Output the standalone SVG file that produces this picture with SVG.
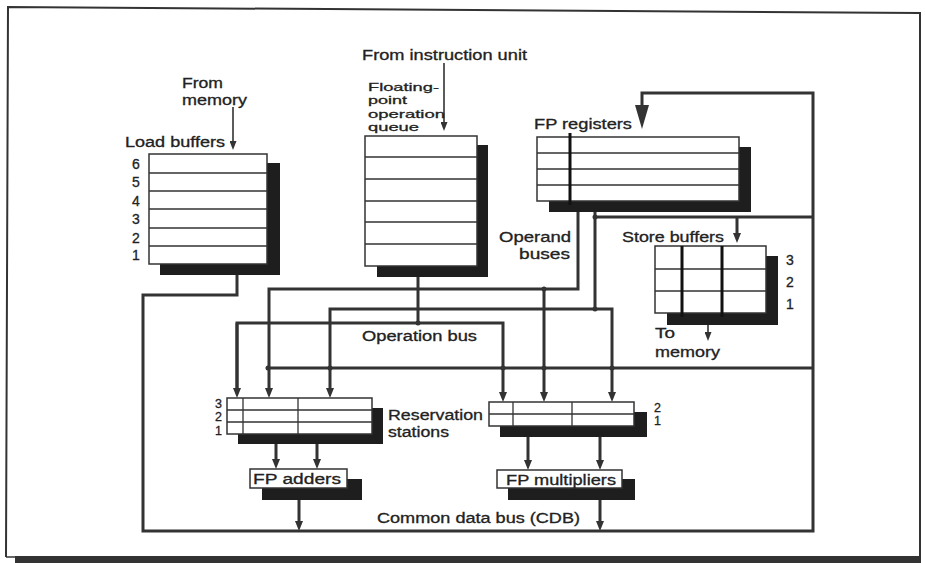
<svg xmlns="http://www.w3.org/2000/svg" width="925" height="563" viewBox="0 0 925 563">
<defs>
<style>
.t{font-family:"Liberation Sans",Arial,sans-serif;font-size:14px;fill:#222;stroke:#222;stroke-width:0.3;}
.q{font-family:"Liberation Sans",Arial,sans-serif;font-size:11.5px;fill:#222;stroke:#222;stroke-width:0.3;}
.n{font-family:"Liberation Sans",Arial,sans-serif;font-size:14px;fill:#222;stroke:#222;stroke-width:0.3;}
.s{font-family:"Liberation Sans",Arial,sans-serif;font-size:12.5px;fill:#222;stroke:#222;stroke-width:0.3;}
.box{fill:#fff;stroke:#333;stroke-width:1.5;}
.sh{fill:#1e1e1e;}
.rl{stroke:#333;stroke-width:1.3;fill:none;}
.tk{stroke:#111;stroke-width:3;fill:none;}
.bus{stroke:#333;stroke-width:3;fill:none;stroke-linejoin:miter;}
.thin{stroke:#333;stroke-width:1.6;fill:none;}
.dot{fill:#333;}
</style>
<marker id="ah" markerUnits="userSpaceOnUse" viewBox="0 0 10 8" refX="5" refY="4" markerWidth="10" markerHeight="8" orient="auto"><path d="M0,0 L10,4 L0,8 z" fill="#333"/></marker>
<marker id="ahs" markerUnits="userSpaceOnUse" viewBox="0 0 9 7" refX="6" refY="3.5" markerWidth="9" markerHeight="7" orient="auto"><path d="M0,0 L9,3.5 L0,7 z" fill="#333"/></marker>
<marker id="ahb" markerUnits="userSpaceOnUse" viewBox="0 0 24 14" refX="16" refY="7" markerWidth="24" markerHeight="14" orient="auto"><path d="M0,0 L24,7 L0,14 z" fill="#333"/></marker>
</defs>
<rect x="0" y="0" width="925" height="563" fill="#fff"/>
<!-- frame -->
<path d="M6,557 L8,7 L920,13 L920,558" fill="none" stroke="#333" stroke-width="2"/>
<path d="M6,557 L16,557" fill="none" stroke="#333" stroke-width="1.5"/>
<rect x="15" y="556" width="906" height="7" fill="#333"/>

<g id="connectors">
<path class="thin" d="M233,107 V147" marker-end="url(#ahs)"/>
<path class="thin" d="M444,63 V128" marker-end="url(#ahs)"/>
<path class="bus" d="M237,275 V295 H143 V531 H813 V93 H642 V121" marker-end="url(#ahb)"/>
<path class="bus" d="M813,217 H595"/>
<path class="bus" d="M737,217 V238" marker-end="url(#ah)"/>
<path class="thin" d="M708,325 V338" marker-end="url(#ahs)"/>
<path class="bus" d="M813,368 H268"/>
<path class="bus" d="M578,212 V289 H269 V393" marker-end="url(#ah)"/>
<path class="bus" d="M544,289 V397" marker-end="url(#ah)"/>
<path class="bus" d="M595,212 V309 H330 V393" marker-end="url(#ah)"/>
<path class="bus" d="M595,309 H612 V397" marker-end="url(#ah)"/>
<path class="bus" d="M418,277 V323"/>
<path class="bus" d="M237,393 V323 H503 V397" marker-end="url(#ah)"/>
<path class="bus" d="M237,323 V393" marker-end="url(#ah)"/>
<path class="bus" d="M276,444 V464" marker-end="url(#ah)"/>
<path class="bus" d="M317,444 V464" marker-end="url(#ah)"/>
<path class="bus" d="M528,437 V465" marker-end="url(#ah)"/>
<path class="bus" d="M600,437 V465" marker-end="url(#ah)"/>
<path class="bus" d="M299,500 V526" marker-end="url(#ah)"/>
<path class="bus" d="M600,500 V526" marker-end="url(#ah)"/>
<circle class="dot" cx="595" cy="217" r="2.5"/>
<circle class="dot" cx="268" cy="368" r="2.5"/>
<circle class="dot" cx="330" cy="368" r="2.5"/>
<circle class="dot" cx="503" cy="368" r="2.5"/>
<circle class="dot" cx="544" cy="368" r="2.5"/>
<circle class="dot" cx="612" cy="368" r="2.5"/>
<circle class="dot" cx="544" cy="289" r="2.5"/>
<circle class="dot" cx="595" cy="309" r="2.5"/>
<circle class="dot" cx="418" cy="323" r="2.5"/>
</g>

<g id="load-buffers">
<rect class="sh" x="160" y="163" width="120" height="112"/>
<rect class="box" x="149" y="154" width="118" height="110"/>
<path class="rl" d="M149,173 H267 M149,191 H267 M149,209 H267 M149,228 H267 M149,246 H267"/>
<text class="t" x="125" y="147" textLength="100" lengthAdjust="spacingAndGlyphs">Load buffers</text>
<text class="n" x="132" y="169">6</text>
<text class="n" x="132" y="187">5</text>
<text class="n" x="132" y="206">4</text>
<text class="n" x="132" y="224">3</text>
<text class="n" x="132" y="243">2</text>
<text class="n" x="132" y="260">1</text>
<text class="t" x="182" y="88" textLength="41" lengthAdjust="spacingAndGlyphs">From</text>
<text class="t" x="182" y="105" textLength="65" lengthAdjust="spacingAndGlyphs">memory</text>
</g>

<g id="fp-queue">
<rect class="sh" x="377" y="145" width="111" height="132"/>
<rect class="box" x="365" y="136" width="112" height="130"/>
<path class="rl" d="M365,157 H477 M365,179 H477 M365,201 H477 M365,222 H477 M365,244 H477"/>
<text class="t" x="362" y="60" textLength="165" lengthAdjust="spacingAndGlyphs">From instruction unit</text>
<text class="q" x="368" y="90.5" textLength="71" lengthAdjust="spacingAndGlyphs">Floating-</text>
<text class="q" x="368" y="104" textLength="39" lengthAdjust="spacingAndGlyphs">point</text>
<text class="q" x="368" y="117.5" textLength="77" lengthAdjust="spacingAndGlyphs">operation</text>
<text class="q" x="368" y="131" textLength="51" lengthAdjust="spacingAndGlyphs">queue</text>
</g>

<g id="fp-registers">
<rect class="sh" x="549" y="147" width="202" height="65"/>
<rect class="box" x="537" y="137" width="202" height="64"/>
<path class="rl" d="M537,153 H739 M537,169 H739 M537,185 H739"/>
<path class="tk" d="M570,133 V205"/>
<text class="t" x="534" y="129" textLength="98" lengthAdjust="spacingAndGlyphs">FP registers</text>
<text class="t" x="499" y="242" textLength="72" lengthAdjust="spacingAndGlyphs">Operand</text>
<text class="t" x="519" y="259" textLength="51" lengthAdjust="spacingAndGlyphs">buses</text>
</g>

<g id="store-buffers">
<rect class="sh" x="667" y="256" width="111" height="69"/>
<rect class="box" x="655" y="246" width="111" height="67"/>
<path class="rl" d="M655,269 H766 M655,291 H766"/>
<path class="tk" d="M682,246 V317 M722,246 V317"/>
<text class="t" x="622" y="242" textLength="102" lengthAdjust="spacingAndGlyphs">Store buffers</text>
<text class="n" x="786" y="265">3</text>
<text class="n" x="786" y="287">2</text>
<text class="n" x="786" y="309">1</text>
<text class="t" x="655" y="338" textLength="20" lengthAdjust="spacingAndGlyphs">To</text>
<text class="t" x="655" y="357" textLength="65" lengthAdjust="spacingAndGlyphs">memory</text>
</g>

<text class="t" x="362" y="341" textLength="115" lengthAdjust="spacingAndGlyphs">Operation bus</text>

<g id="rs-adders">
<rect class="sh" x="238" y="408" width="145" height="36"/>
<rect class="box" x="227" y="398" width="145" height="36"/>
<path class="rl" d="M227,410 H372 M227,422 H372 M243,398 V434 M298,398 V434"/>
<text class="s" x="215" y="408">3</text>
<text class="s" x="215" y="421">2</text>
<text class="s" x="215" y="435">1</text>
<text class="t" x="388" y="420" textLength="95" lengthAdjust="spacingAndGlyphs">Reservation</text>
<text class="t" x="388" y="437" textLength="61" lengthAdjust="spacingAndGlyphs">stations</text>
</g>

<g id="rs-multipliers">
<rect class="sh" x="500" y="412" width="147" height="25"/>
<rect class="box" x="489" y="402" width="145" height="24"/>
<path class="rl" d="M489,414 H634 M513,402 V426 M572,402 V426"/>
<text class="s" x="654" y="412">2</text>
<text class="s" x="654" y="425">1</text>
</g>

<g id="fp-adders">
<rect class="sh" x="262" y="479" width="100" height="21"/>
<rect class="box" x="250" y="469" width="97" height="19"/>
<text class="t" x="253" y="484" textLength="88" lengthAdjust="spacingAndGlyphs">FP adders</text>
</g>

<g id="fp-multipliers">
<rect class="sh" x="508" y="479" width="127" height="21"/>
<rect class="box" x="497" y="470" width="125" height="18"/>
<text class="t" x="506" y="485" textLength="110" lengthAdjust="spacingAndGlyphs">FP multipliers</text>
</g>

<text class="t" x="377" y="523" textLength="203" lengthAdjust="spacingAndGlyphs">Common data bus (CDB)</text>
</svg>
